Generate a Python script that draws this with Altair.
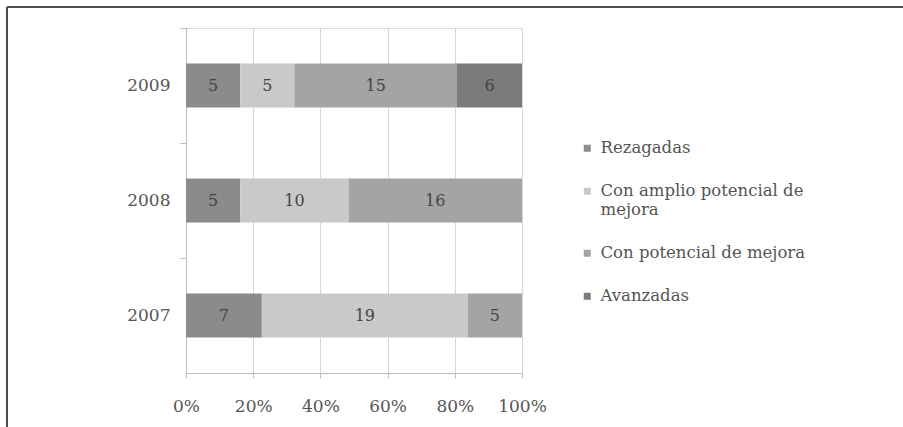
import altair as alt
import pandas as pd

years = ["2009", "2008", "2007"]
categories = ["Rezagadas", "Con amplio potencial de mejora", "Con potencial de mejora", "Avanzadas"]
v2009 = [5, 5, 15, 6]
v2008 = [5, 10, 16, 0]
v2007 = [7, 19, 5, 0]
colors = ["#8b8b8b", "#c9c9c9", "#a4a4a4", "#7b7b7b"]
x_ticks = [0, 0.2, 0.4, 0.6, 0.8, 1.0]

rows = []
for yr, vals in zip(years, [v2009, v2008, v2007]):
    for i, (c, v) in enumerate(zip(categories, vals)):
        if v > 0:
            rows.append({"year": yr, "cat": c, "val": v, "ord": i})
df = pd.DataFrame(rows)

FONT = "DejaVu Serif"

base = alt.Chart(df).transform_stack(
    stack="val", groupby=["year"], as_=["x0", "x1"], offset="normalize",
    sort=[alt.SortField("ord", order="ascending")]
).transform_calculate(mid="(datum.x0 + datum.x1) / 2")

yenc = alt.Y("year:N", sort=years, title=None,
             scale=alt.Scale(domain=years, paddingInner=0, paddingOuter=0),
             axis=alt.Axis(bandPosition=0, tickSize=6, labelPadding=10,
                           domainColor="#bdbdbd", tickColor="#bdbdbd", labelColor="#555555",
                           labelFont=FONT, labelFontSize=17, grid=False))

bars = base.mark_bar(size=44).encode(
    x=alt.X("x0:Q", title=None, scale=alt.Scale(domain=[0, 1]),
            axis=alt.Axis(values=x_ticks, format="%", grid=True, gridColor="#d6d6d6",
                          domainColor="#bdbdbd", tickColor="#bdbdbd", tickSize=5,
                          labelPadding=20, labelColor="#555555", labelFont=FONT,
                          labelFontSize=17, labelOverlap=False, labelFlush=False)),
    x2="x1:Q",
    y=yenc,
    color=alt.Color("cat:N", scale=alt.Scale(domain=categories, range=colors), title=None,
                    legend=alt.Legend(orient="none", legendX=393, legendY=112,
                                      symbolType="square", symbolSize=49, symbolStrokeWidth=0,
                                      labelFont=FONT, labelFontSize=16.5, labelColor="#555555",
                                      labelLimit=400, rowPadding=26, labelOffset=5,
                                      labelExpr="datum.label == 'Con amplio potencial de mejora' ? ['Con amplio potencial de', 'mejora'] : datum.label")),
)

labels = base.mark_text(font=FONT, fontSize=16, color="#444444").encode(
    x=alt.X("mid:Q"),
    y=alt.Y("year:N", sort=years),
    text=alt.Text("val:Q"),
)

frame_top = alt.Chart(df).mark_rule(color="#4d4d4d", strokeWidth=2).encode(
    x=alt.value(-179), x2=alt.value(717), y=alt.value(-21))
frame_left = alt.Chart(df).mark_rule(color="#4d4d4d", strokeWidth=2).encode(
    x=alt.value(-179), y=alt.value(-21), y2=alt.value(399))

chart = alt.layer(bars, labels, frame_top, frame_left).properties(
    width=336, height=345,
    padding={"left": 186, "top": 28, "right": 381, "bottom": 54},
    autosize=alt.AutoSizeParams(type="none"),
).configure_view(stroke=None).configure(background="white")

chart.save("out.html", embed_options={"renderer": "svg", "actions": False})
